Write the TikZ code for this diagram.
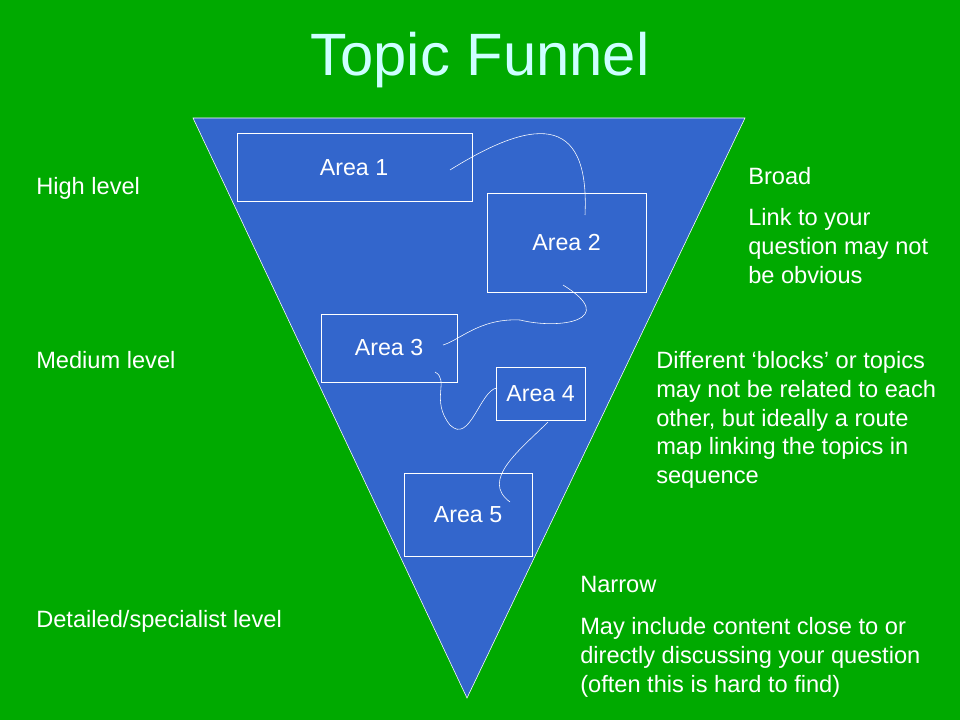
\documentclass[tikz,border=0pt]{standalone}
\usepackage{fontspec}
\setmainfont{Liberation Sans}
\definecolor{slidegreen}{RGB}{0,170,0}
\definecolor{funnelblue}{RGB}{51,102,204}
\definecolor{titlecyan}{RGB}{204,255,255}
\tikzset{
  area/.style={draw=white, minimum width=#1, inner sep=0pt, text=white, font=\fontsize{16.5}{19}\selectfont},
  label/.style={text=white, anchor=west, align=left, font=\fontsize{16.8}{20.5}\selectfont, inner sep=0pt},
  route/.style={draw=white, thin}
}
\begin{document}
\begin{tikzpicture}[x=0.025cm, y=-0.025cm]
  \fill[slidegreen] (0,0) rectangle (960,720);
  \useasboundingbox (0,0) rectangle (960,720);
  \node[text=titlecyan, font=\fontsize{42.5}{48}\selectfont] (title) at (480,60) {Topic Funnel};
  \fill[funnelblue, draw=white, thin] (193,118) -- (745,118) -- (467,698) -- cycle;
  % boxes
  \node[area=5.875cm, minimum height=1.7cm] (a1) at (354.5,167) {};
  \node[text=white, font=\fontsize{16.5}{19}\selectfont] at (354,168) {Area 1};
  \node[area=3.975cm, minimum height=2.475cm] (a2) at (566.5,242.5) {Area 2};
  \node[area=3.4cm, minimum height=1.7cm] (a3) at (389,348) {Area 3};
  \node[area=2.225cm, minimum height=1.325cm] (a4) at (540.5,393.5) {Area 4};
  \node[area=3.2cm, minimum height=2.075cm] (a5) at (468,514.5) {Area 5};
  % route
  \coordinate (r1) at (450,170);
  \coordinate (r2) at (585,215);
  \coordinate (r3) at (563,285);
  \coordinate (r4) at (443,345);
  \coordinate (r5) at (435,372);
  \coordinate (r6) at (497,388);
  \coordinate (r7) at (548,422);
  \coordinate (r8) at (510,502);
  \draw[route] (r1) .. controls (530,120) and (590,110) .. (r2);
  \draw[route] (r3) .. controls (620,320) and (560,330) .. (520,320) .. controls (480,318) and (460,340) .. (r4);
  \draw[route] (r5) .. controls (450,380) and (430,400) .. (450,425) .. controls (470,445) and (480,390) .. (r6);
  \draw[route] (r7) .. controls (520,450) and (480,480) .. (r8);
  % side texts
  \node[label] (high) at (36,188) {High level};
  \node[label] (medium) at (36,360) {Medium level};
  \node[label] (detail) at (36,621) {Detailed/specialist level};
  \node[label] (broad) at (748,176) {Broad};
  \node[label, anchor=north west] (link) at (748,208) {Link to your\\question may not\\be obvious};
  \node[label, anchor=north west] (diff) at (656,351) {Different ‘blocks’ or topics\\may not be related to each\\other, but ideally a route\\map linking the topics in\\sequence};
  \node[label] (narrow) at (580,584) {Narrow};
  \node[label, anchor=north west] (may) at (580,617) {May include content close to or\\directly discussing your question\\(often this is hard to find)};
\end{tikzpicture}
\end{document}
